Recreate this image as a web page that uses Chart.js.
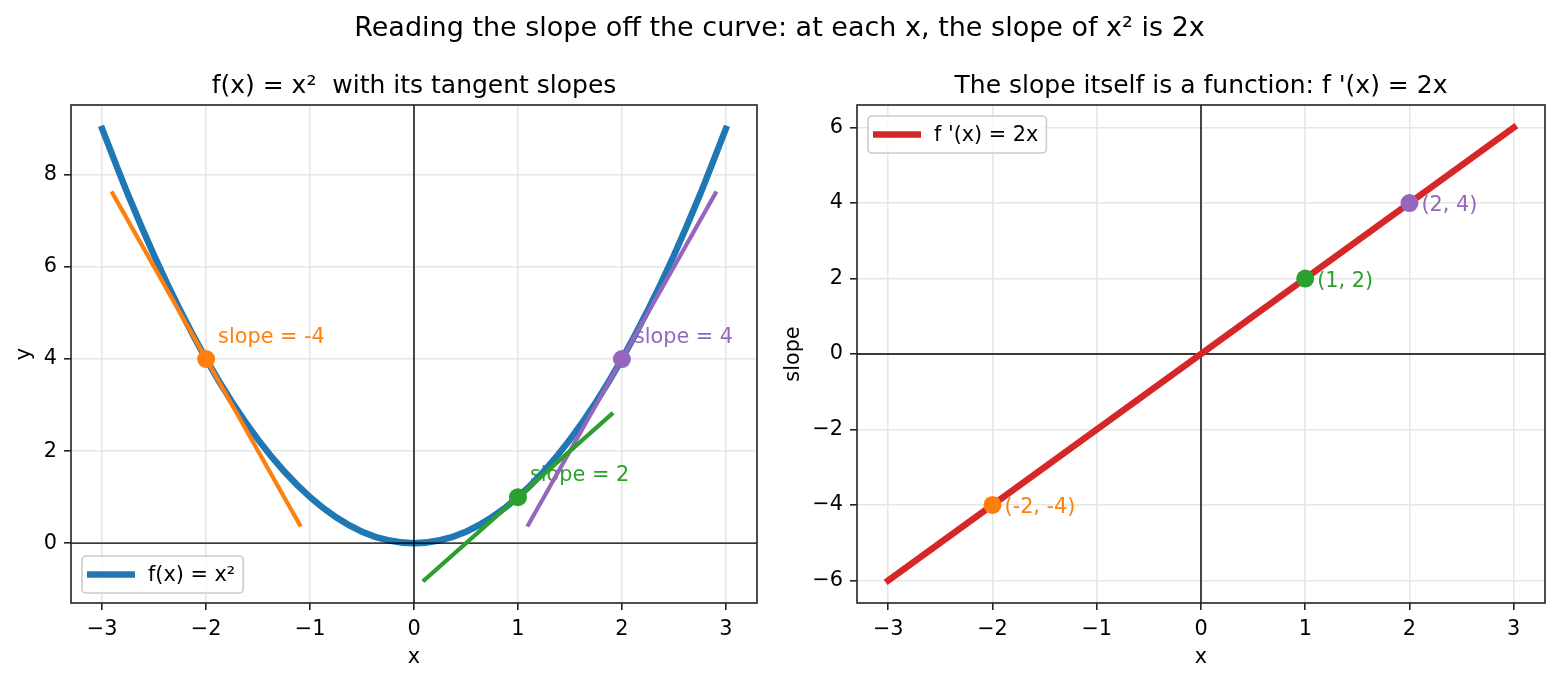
<!DOCTYPE html>
<html>
<head>
<meta charset="utf-8">
<script src="https://cdn.jsdelivr.net/npm/chart.js@4.4.1/dist/chart.umd.min.js"></script>
<style>
  body { margin: 0; background: #fff; }
  #wrap { position: relative; width: 1559px; height: 681px; font-family: "DejaVu Sans"; }
  #suptitle { position: absolute; left: 0; top: 0; width: 1559px; height: 54px; line-height: 54px;
              text-align: center; font-size: 27px; color: #000; }
  canvas { position: absolute; top: 0; }
  #left { left: 0; }
  #right { left: 780px; }
</style>
</head>
<body>
<div id="wrap">
  <canvas id="left" width="780" height="681"></canvas>
  <canvas id="right" width="779" height="681"></canvas>
  <div id="suptitle">Reading the slope off the curve: at each x, the slope of x² is 2x</div>
</div>
<script>
// curve f(x) = x^2, sampled
const curveX = [-3, -2.75, -2.5, -2.25, -2, -1.75, -1.5, -1.25, -1, -0.75, -0.5, -0.25, 0,
                0.25, 0.5, 0.75, 1, 1.25, 1.5, 1.75, 2, 2.25, 2.5, 2.75, 3];
const curveY = [9, 7.5625, 6.25, 5.0625, 4, 3.0625, 2.25, 1.5625, 1, 0.5625, 0.25, 0.0625, 0,
                0.0625, 0.25, 0.5625, 1, 1.5625, 2.25, 3.0625, 4, 5.0625, 6.25, 7.5625, 9];

// tangent segments
const orangeTanX = [-2.9, -1.1], orangeTanY = [7.6, 0.4];
const greenTanX = [0.1, 1.9], greenTanY = [-0.8, 2.8];
const purpleTanX = [1.1, 2.9], purpleTanY = [0.4, 7.6];

// marked points and their slopes
const pointX = [-2, 1, 2];
const pointY = [4, 1, 4];
const slopes = [-4, 2, 4];
const slopeLabels = ["slope = -4", "slope = 2", "slope = 4"];
const slopePointLabels = ["(-2, -4)", "(1, 2)", "(2, 4)"];

// derivative line
const derivX = [-3, 3];
const derivY = [-6, 6];

// ticks
const xTicks = [-3, -2, -1, 0, 1, 2, 3];
const leftYTicks = [0, 2, 4, 6, 8];
const rightYTicks = [-6, -4, -2, 0, 2, 4, 6];

const BLUE = "#1f77b4", ORANGE = "#ff7f0e", GREEN = "#2ca02c", RED = "#d62728", PURPLE = "#9467bd";
const pointColors = [ORANGE, GREEN, PURPLE];
const FONT = "DejaVu Sans";
const FS = 20.8;

const zip = (xs, ys) => xs.map((v, i) => ({ x: v, y: ys[i] }));
const fmt = v => String(v).replace("-", "\u2212");

function makeScales(yMin, yMax, yTicks, yTitle, yTitlePad, yWidth) {
  const grid = { color: "#e6e6e6", lineWidth: 1.6, tickLength: 7, tickColor: "#222", tickWidth: 1.6 };
  return {
    x: {
      type: "linear", min: -3.3, max: 3.3,
      afterBuildTicks: s => { s.ticks = xTicks.map(v => ({ value: v })); },
      afterFit: s => { s.height = 78; },
      ticks: { font: { family: FONT, size: FS }, color: "#000", padding: 7, maxRotation: 0, autoSkip: false, callback: fmt },
      grid: grid,
      border: { display: false },
      title: { display: true, text: "x", font: { family: FONT, size: FS }, color: "#000", padding: { top: 0, bottom: 11 } },
    },
    y: {
      type: "linear", min: yMin, max: yMax,
      afterBuildTicks: s => { s.ticks = yTicks.map(v => ({ value: v })); },
      afterFit: s => { s.width = yWidth; },
      ticks: { font: { family: FONT, size: FS }, color: "#000", padding: 7, autoSkip: false, callback: fmt },
      grid: grid,
      border: { display: false },
      title: { display: true, text: yTitle, font: { family: FONT, size: FS }, color: "#000", padding: { top: yTitlePad, bottom: 0 } },
    },
  };
}

function drawZeroLines(chart) {
  const { ctx, chartArea: a, scales: { x, y } } = chart;
  ctx.save();
  ctx.beginPath();
  ctx.rect(a.left, a.top, a.right - a.left, a.bottom - a.top);
  ctx.clip();
  ctx.strokeStyle = "#000";
  ctx.lineWidth = 1.4;
  const px0 = x.getPixelForValue(0), py0 = y.getPixelForValue(0);
  ctx.beginPath();
  ctx.moveTo(a.left, py0); ctx.lineTo(a.right, py0);
  ctx.moveTo(px0, a.top); ctx.lineTo(px0, a.bottom);
  ctx.stroke();
  ctx.restore();
}

// axes lines, annotations, frame, title and legend
function figurePlugin(cfg) {
  return {
    id: "fig",
    beforeDatasetsDraw(chart) {
      const { ctx, scales: { x, y } } = chart;
      if (cfg.zeroAfter < 0) drawZeroLines(chart);
      ctx.save();
      ctx.font = FS + "px " + FONT;
      ctx.textBaseline = "alphabetic";
      ctx.textAlign = "left";
      cfg.notes.forEach(n => {
        ctx.fillStyle = n.color;
        ctx.fillText(n.text, x.getPixelForValue(n.x) + 12, y.getPixelForValue(n.y) + cfg.noteDy);
      });
      ctx.restore();
    },
    afterDatasetDraw(chart, args) {
      if (args.index === cfg.zeroAfter) drawZeroLines(chart);
    },
    afterDraw(chart) {
      const { ctx, chartArea: a } = chart;
      ctx.save();
      // frame
      ctx.strokeStyle = "#222";
      ctx.lineWidth = 1.6;
      ctx.strokeRect(a.left, a.top, a.right - a.left, a.bottom - a.top);
      // subplot title
      ctx.fillStyle = "#000";
      ctx.font = "25px " + FONT;
      ctx.textAlign = "center";
      ctx.textBaseline = "alphabetic";
      ctx.fillText(cfg.title, (a.left + a.right) / 2, a.top - 12);
      // legend
      const ds = chart.data.datasets[cfg.legendIndex];
      ctx.font = FS + "px " + FONT;
      const w = ctx.measureText(ds.label).width + 66 + 8;
      const h = 37;
      const bx = a.left + 11;
      const by = cfg.legendPos === "upper" ? a.top + 11 : a.bottom - 10 - h;
      ctx.beginPath();
      ctx.roundRect(bx, by, w, h, 4);
      ctx.fillStyle = "rgba(255,255,255,0.8)";
      ctx.fill();
      ctx.strokeStyle = "#cccccc";
      ctx.lineWidth = 1.6;
      ctx.stroke();
      ctx.strokeStyle = ds.borderColor;
      ctx.lineWidth = ds.borderWidth;
      ctx.beginPath();
      ctx.moveTo(bx + 5, by + h / 2);
      ctx.lineTo(bx + 53, by + h / 2);
      ctx.stroke();
      ctx.fillStyle = "#000";
      ctx.textAlign = "left";
      ctx.textBaseline = "middle";
      ctx.fillText(ds.label, bx + 66, by + h / 2 + 1);
      ctx.restore();
    },
  };
}

const lineDs = (label, data, color, width, order) => ({
  label, data, borderColor: color, backgroundColor: color, borderWidth: width,
  pointRadius: 0, fill: false, tension: 0, borderCapStyle: "square", order,
});

const leftCfg = {
  type: "line",
  data: {
    datasets: [
      Object.assign(lineDs("f(x) = x²", zip(curveX, curveY), BLUE, 6.5, 3), { cubicInterpolationMode: "monotone" }),
      lineDs("tangent at -2", zip(orangeTanX, orangeTanY), ORANGE, 4.2, 2),
      lineDs("tangent at 1", zip(greenTanX, greenTanY), GREEN, 4.2, 2),
      lineDs("tangent at 2", zip(purpleTanX, purpleTanY), PURPLE, 4.2, 2),
      {
        label: "points", data: zip(pointX, pointY), showLine: false, order: 1,
        pointRadius: 9, pointHoverRadius: 9, pointBorderWidth: 0,
        pointBackgroundColor: pointColors, pointBorderColor: pointColors,
      },
    ],
  },
  options: {
    responsive: false,
    animation: false,
    layout: { padding: { left: 0, top: 105, right: 23, bottom: 0 } },
    scales: makeScales(-1.3, 9.52, leftYTicks, "y", 12.5, 71),
    plugins: { legend: { display: false }, tooltip: { enabled: false } },
  },
  plugins: [figurePlugin({
    title: "f(x) = x²  with its tangent slopes",
    legendIndex: 0, legendPos: "lower", noteDy: -16, zeroAfter: 0,
    notes: pointX.map((v, i) => ({ x: v, y: pointY[i], text: slopeLabels[i], color: pointColors[i] })),
  })],
};

const rightCfg = {
  type: "line",
  data: {
    datasets: [
      lineDs("f '(x) = 2x", zip(derivX, derivY), RED, 6.5, 2),
      {
        label: "slope points", data: zip(pointX, slopes), showLine: false, order: 1,
        pointRadius: 9, pointHoverRadius: 9, pointBorderWidth: 0,
        pointBackgroundColor: pointColors, pointBorderColor: pointColors,
      },
    ],
  },
  options: {
    responsive: false,
    animation: false,
    layout: { padding: { left: 0, top: 105, right: 14, bottom: 0 } },
    scales: makeScales(-6.6, 6.6, rightYTicks, "slope", 1.5, 77),
    plugins: { legend: { display: false }, tooltip: { enabled: false } },
  },
  plugins: [figurePlugin({
    title: "The slope itself is a function: f '(x) = 2x",
    legendIndex: 0, legendPos: "upper", noteDy: 8, zeroAfter: -1,
    notes: pointX.map((v, i) => ({ x: v, y: slopes[i], text: slopePointLabels[i], color: pointColors[i] })),
  })],
};

new Chart(document.getElementById("left"), leftCfg);
new Chart(document.getElementById("right"), rightCfg);
</script>
</body>
</html>
